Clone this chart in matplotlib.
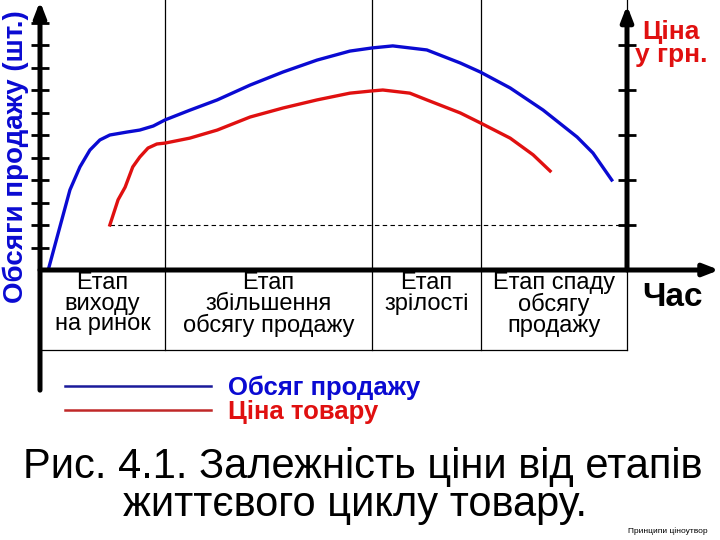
import matplotlib
matplotlib.use('Agg')
import matplotlib.pyplot as plt
from matplotlib.lines import Line2D
from matplotlib.transforms import blended_transform_factory

plt.rcParams['font.family'] = ['Liberation Sans', 'DejaVu Sans']

# stage boundaries on the time axis (0..100) and their captions
stage_edges = [0, 21.3, 56.6, 75.1, 100]
stage_labels = ['Етап\nвиходу\nна ринок',
                'Етап\nзбільшення\nобсягу продажу',
                'Етап\nзрілості',
                'Етап спаду\nобсягу\nпродажу']

# sales volume (left axis, ticks 1..11)
t_volume = [1.4, 3.1, 5.1, 6.8, 8.5, 10.2, 11.9, 14.8, 17.0, 19.3, 21.3, 25.5,
            30.2, 35.8, 41.4, 47.2, 52.8, 56.6, 60.1, 65.9, 71.6, 75.0, 80.1,
            85.7, 91.5, 94.2, 97.4]
volume = [0.0, 1.64, 3.56, 4.58, 5.33, 5.78, 6.0, 6.13, 6.22, 6.4, 6.67, 7.1,
          7.56, 8.22, 8.8, 9.33, 9.73, 9.87, 9.96, 9.78, 9.2, 8.8, 8.09,
          7.11, 5.91, 5.2, 4.0]

# price (right axis, ticks 1..5)
t_price = [11.9, 13.3, 14.5, 15.8, 17.0, 18.4, 19.9, 21.3, 25.5, 30.2, 35.8,
           41.4, 47.2, 52.8, 56.6, 58.4, 63.0, 65.9, 71.6, 75.0, 80.1, 84.0, 86.9]
price = [1.0, 1.56, 1.84, 2.29, 2.51, 2.71, 2.8, 2.82, 2.93, 3.11, 3.4,
         3.6, 3.78, 3.93, 3.98, 4.0, 3.93, 3.78, 3.49, 3.27, 2.93, 2.56, 2.2]

BLUE = '#0a0ad2'
RED = '#e01010'

fig = plt.figure(figsize=(7.2, 5.4), dpi=100)
ax = fig.add_axes([40 / 720, 0.5, 587 / 720, 0.5])
ax.set_xlim(0, 100)
ax.set_ylim(0, 12)
for s in ax.spines.values():
    s.set_visible(False)
ax.set_xticks([])
ax.set_yticks(range(1, 12))
ax.set_yticklabels([])
ax.tick_params(axis='y', direction='inout', length=13, width=2.0, color='black')

ax2 = ax.twinx()
ax2.set_ylim(0, 6)
for s in ax2.spines.values():
    s.set_visible(False)
ax2.set_yticks(range(1, 6))
ax2.set_yticklabels([])
ax2.tick_params(axis='y', direction='inout', length=13, width=2.0, color='black')

# axes lines with arrows
arrow = dict(arrowstyle='-|>,head_length=0.9,head_width=0.35', lw=3.6, color='black',
             shrinkA=0, shrinkB=0)
ax.annotate('', xy=(0, 0.995), xytext=(0, -0.445), xycoords='axes fraction',
            arrowprops=arrow, annotation_clip=False)
ax.annotate('', xy=(1.157, 0), xytext=(0, 0), xycoords='axes fraction',
            arrowprops=arrow, annotation_clip=False)
ax.annotate('', xy=(1, 0.98), xytext=(1, 0), xycoords='axes fraction',
            arrowprops=arrow, annotation_clip=False)

# stage separators and table frame
tr = blended_transform_factory(ax.transData, ax.transAxes)
for e in stage_edges[1:]:
    ax.plot([e, e], [-0.296, 1.0], color='black', lw=0.9, transform=tr, clip_on=False)
ax.plot([0, 100], [-0.296, -0.296], color='black', lw=0.9, transform=tr, clip_on=False)

for i, lab in enumerate(stage_labels):
    xc = (stage_edges[i] + stage_edges[i + 1]) / 2
    ax.text(xc, -0.008, lab, transform=tr, ha='center', va='top',
            fontsize=17, linespacing=0.92)

# starting price reference line
ax2.plot([t_price[0], 100], [price[0], price[0]], color='black', lw=0.8,
         ls=(0, (4, 3)), clip_on=False)

ax.plot(t_volume, volume, color=BLUE, lw=2.4, solid_joinstyle='round', clip_on=False)
ax2.plot(t_price, price, color=RED, lw=2.4, solid_joinstyle='round', clip_on=False)

# axis captions
fig.text(16 / 720, 1 - 157 / 540, 'Обсяги продажу (шт.)', rotation=90, color=BLUE,
         fontsize=20, fontweight='bold', ha='center', va='center')
fig.text(671 / 720, 1 - 20 / 540, 'Ціна\nу грн.', color=RED, fontsize=19,
         fontweight='bold', ha='center', va='top', linespacing=0.95)
fig.text(672 / 720, 1 - 297 / 540, 'Час', color='black', fontsize=24,
         fontweight='bold', ha='center', va='center')

# legend
handles = [Line2D([], [], color='#1a1a9a', lw=1.8), Line2D([], [], color='#c02828', lw=1.8)]
leg = fig.legend(handles, ['Обсяг продажу', 'Ціна товару'], loc='upper left',
                 bbox_to_anchor=(65 / 720, 1 - 376 / 540), frameon=False, borderpad=0,
                 borderaxespad=0, handlelength=5.7, handletextpad=0.65,
                 labelspacing=0.0, prop=dict(size=18.5, weight='bold'))
for txt, c in zip(leg.get_texts(), [BLUE, RED]):
    txt.set_color(c)

# figure caption
fig.text(363 / 720, 1 - 467 / 540, 'Рис. 4.1. Залежність ціни від етапів',
         fontsize=30, ha='center', va='center')
fig.text(355 / 720, 1 - 505 / 540, 'життєвого циклу товару.',
         fontsize=30, ha='center', va='center')
fig.text(708 / 720, 1 - 531 / 540, 'Принципи ціноутвор', fontsize=6,
         ha='right', va='center')

fig.savefig('out.png', dpi=100)
